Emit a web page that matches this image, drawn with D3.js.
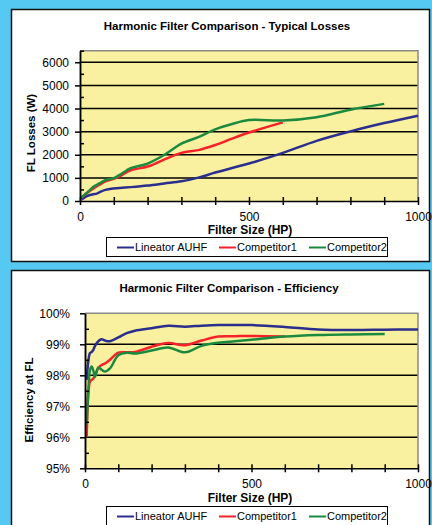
<!doctype html>
<html lang="en">
<head>
<meta charset="UTF-8">
<script type="text/javascript" src="https://cdn.jsdelivr.net/npm/d3@7/dist/d3.min.js"></script>
<style>
  body { margin: 0; background-color: #55c9f2; }
  svg { display: block; font-family: "Liberation Sans", Arial, sans-serif; }
  .panel { fill: #ffffff; stroke: #111; stroke-width: 1.5; }
  .plotBg { fill: #faf1a0; }
  .grid line { stroke: #000; stroke-width: 1.5; }
  .frame { fill: none; stroke: #8a8a8a; stroke-width: 1.5; }
  .axis path, .axis line { stroke: #000; stroke-width: 1.5; fill: none; }
  .axis text { fill: #000; font-size: 12px; }
  .title { font-size: 11.5px; font-weight: bold; text-anchor: middle; }
  .xTitle { font-size: 12px; font-weight: bold; text-anchor: middle; }
  .yTitle { font-size: 11.5px; font-weight: bold; text-anchor: middle; }
  .series { fill: none; stroke-width: 2.5; }
  .legendBox { fill: #fff; stroke: #000; stroke-width: 1; }
  .legend text { font-size: 11px; }
</style>
</head>
<body>
<svg id="chart" width="432" height="525"></svg>
<script type="text/javascript">
// series names and colours
let seriesNames = ["Lineator AUHF", "Competitor1", "Competitor2"];
let seriesColors = ["#2b2e8c", "#f5222a", "#1c8a3e"];

// filter sizes (HP) per series
let hpAUHF  = [5,10,15,20,25,30,40,50,60,75,100,125,150,200,250,300,350,400,450,500,600,700,800,900,1000];
let hpComp1 = [5,10,15,20,25,30,40,50,60,75,100,125,150,200,250,300,350,400,450,500,600];
let hpComp2 = [5,10,15,20,25,30,40,50,60,75,100,125,150,200,250,300,350,400,450,500,600,700,800,900];

// FL losses (W)
let lossAUHF  = [60,120,170,210,240,260,290,320,390,480,540,570,600,670,760,850,1010,1230,1430,1620,2080,2600,3010,3370,3690];
let lossComp1 = [150,220,280,330,390,440,540,640,720,850,960,1130,1330,1490,1800,2080,2200,2420,2700,2960,3400];
let lossComp2 = [160,220,290,350,420,480,620,700,780,900,990,1200,1420,1620,2000,2480,2760,3100,3330,3500,3480,3620,3950,4200];

// efficiency at FL (%)
let effAUHF  = [97.85,98.45,98.72,98.75,98.82,98.95,99.1,99.16,99.12,99.1,99.22,99.36,99.44,99.52,99.6,99.57,99.6,99.62,99.62,99.62,99.56,99.48,99.46,99.47,99.48];
let effComp1 = [96.0,97.4,97.8,97.85,97.9,98.0,98.23,98.33,98.38,98.5,98.73,98.74,98.75,98.92,99.04,98.97,99.12,99.25,99.26,99.27,99.25];
let effComp2 = [96.4,97.5,98.17,98.28,98.15,97.95,98.25,98.18,98.12,98.22,98.65,98.73,98.7,98.8,98.9,98.74,98.95,99.05,99.1,99.15,99.25,99.3,99.32,99.33];

// axis ticks
let xTickLabels = [0, 500, 1000];
let lossTicks = [0,1000,2000,3000,4000,5000,6000];
let effTicks = [95,96,97,98,99,100];

let svg = d3.select("#chart");

// white panels
svg.append("rect").attr("class", "panel")
  .attr("x", 11.5).attr("y", 9.5).attr("width", 418).attr("height", 252);
svg.append("rect").attr("class", "panel")
  .attr("x", 11.5).attr("y", 270.5).attr("width", 418).attr("height", 262);

function zip(xs, ys) {
  return xs.map(function (x, i) { return {hp: x, v: ys[i]}; });
}

function drawChart(cfg) {
  let g = svg.append("g");
  let x = d3.scaleLinear().domain([0, 1000]).range([cfg.left, cfg.right]);
  let y = d3.scaleLinear().domain(cfg.yDomain).range([cfg.bottom, cfg.top]);

  g.append("rect").attr("class", "plotBg")
    .attr("x", cfg.left).attr("y", cfg.top)
    .attr("width", cfg.right - cfg.left).attr("height", cfg.bottom - cfg.top);

  // horizontal gridlines
  g.append("g").attr("class", "grid")
    .selectAll("line")
    .data(cfg.yTicks.filter(function (d) { return d > cfg.yDomain[0] && d < cfg.yDomain[1]; }))
    .enter().append("line")
    .attr("x1", cfg.left).attr("x2", cfg.right)
    .attr("y1", function (d) { return y(d); })
    .attr("y2", function (d) { return y(d); });

  // grey frame top + right
  g.append("path").attr("class", "frame")
    .attr("d", "M" + cfg.left + "," + cfg.top + "H" + cfg.right + "V" + cfg.bottom);

  // series
  let data = [zip(cfg.hp[0], cfg.vals[0]), zip(cfg.hp[1], cfg.vals[1]), zip(cfg.hp[2], cfg.vals[2])];
  let line = d3.line()
    .x(function (d) { return x(d.hp); })
    .y(function (d) { return y(d.v); })
    .curve(d3.curveCatmullRom.alpha(0.5));
  g.selectAll("path.series")
    .data(data).enter().append("path")
    .attr("class", "series")
    .attr("stroke", function (d, i) { return seriesColors[i]; })
    .attr("d", line);

  // y axis: major outside ticks with labels, minor inside ticks
  let yAxis = d3.axisLeft(y).tickValues(cfg.yTicks).tickSizeInner(5).tickSizeOuter(0)
    .tickPadding(cfg.yPad).tickFormat(cfg.yFormat);
  g.append("g").attr("class", "axis")
    .attr("transform", "translate(" + cfg.left + ",0)")
    .call(yAxis);
  let yMinor = d3.axisLeft(y).tickValues(cfg.yMinor).tickSizeInner(-4).tickSizeOuter(0).tickFormat("");
  g.append("g").attr("class", "axis")
    .attr("transform", "translate(" + cfg.left + ",0)")
    .call(yMinor);

  // x axis: cross ticks every 100
  let xAxis = d3.axisBottom(x).tickValues(d3.range(0, 1001, 100)).tickSizeInner(4).tickSizeOuter(0)
    .tickFormat(function (d) { return xTickLabels.indexOf(d) >= 0 ? d : ""; })
    .tickPadding(7);
  let xg = g.append("g").attr("class", "axis")
    .attr("transform", "translate(0," + cfg.bottom + ")")
    .call(xAxis);
  xg.selectAll(".tick line").attr("y1", -4);

  // titles
  g.append("text").attr("class", "title")
    .attr("x", cfg.titleX).attr("y", cfg.titleY).text(cfg.title);
  g.append("text").attr("class", "xTitle")
    .attr("x", 250).attr("y", cfg.xTitleY).text("Filter Size (HP)");
  g.append("text").attr("class", "yTitle")
    .attr("transform", "translate(" + cfg.yTitleX + "," + cfg.yTitleY + ") rotate(-90)")
    .text(cfg.yTitle);

  // legend
  let lg = g.append("g").attr("class", "legend");
  lg.append("rect").attr("class", "legendBox")
    .attr("x", 106.5).attr("y", cfg.legendY).attr("width", 281).attr("height", 19);
  let item = lg.selectAll("g.item").data(seriesNames).enter().append("g")
    .attr("transform", function (d, i) {
      return "translate(" + [117, 219, 309][i] + "," + (cfg.legendY + 10) + ")";
    });
  item.append("line").attr("x1", 0).attr("x2", 17)
    .attr("stroke", function (d, i) { return seriesColors[i]; }).attr("stroke-width", 2);
  item.append("text").attr("x", 18).attr("dy", "0.35em").text(function (d) { return d; });
}

drawChart({
  left: 80, right: 418, top: 50.7, bottom: 201,
  yDomain: [0, 6500], yTicks: lossTicks, yMinor: d3.range(500, 6501, 1000),
  yFormat: function (d) { return d; }, yPad: 6,
  hp: [hpAUHF, hpComp1, hpComp2], vals: [lossAUHF, lossComp1, lossComp2],
  title: "Harmonic Filter Comparison - Typical Losses", titleX: 227, titleY: 30,
  xTitleY: 234, yTitle: "FL Losses (W)", yTitleX: 35, yTitleY: 133,
  legendY: 237.5
});

drawChart({
  left: 85, right: 418, top: 313.3, bottom: 468.3,
  yDomain: [95, 100], yTicks: effTicks, yMinor: d3.range(95.5, 100, 1),
  yFormat: function (d) { return d + "%"; }, yPad: 10,
  hp: [hpAUHF, hpComp1, hpComp2], vals: [effAUHF, effComp1, effComp2],
  title: "Harmonic Filter Comparison - Efficiency", titleX: 229, titleY: 292,
  xTitleY: 502, yTitle: "Efficiency at FL", yTitleX: 33, yTitleY: 400,
  legendY: 506.5
});
</script>
</body>
</html>
